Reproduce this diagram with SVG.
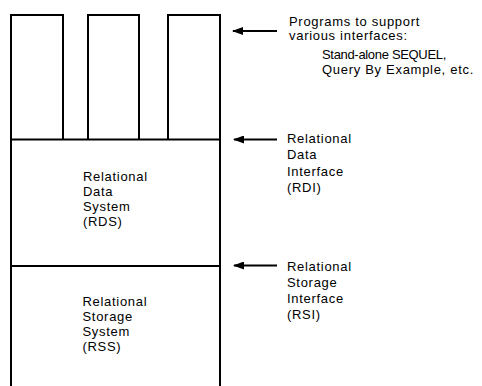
<svg xmlns="http://www.w3.org/2000/svg" width="482" height="386" viewBox="0 0 482 386">
  <style>
    .ln { fill: none; stroke: #000; stroke-width: 2; }
    .t { font-family: "Liberation Sans", Arial, sans-serif; font-size: 13px; letter-spacing: 0.7px; fill: #000; }
    .arr { fill: none; stroke: #000; stroke-width: 2; marker-end: url(#ah); }
  </style>
  <defs>
    <marker id="ah" markerUnits="userSpaceOnUse" markerWidth="11" markerHeight="8" viewBox="0 0 11 8" refX="10" refY="4" orient="auto">
      <path d="M0,0 L11,4 L0,8 z" fill="#000"/>
    </marker>
  </defs>
  <rect width="482" height="386" fill="#fff"/>

  <g id="interface-programs">
    <path class="ln" d="M11,386 V15 H63 V139.5 M88,139.5 V15 H139 V139.5 M168,139.5 V15 H220 V386"/>
  </g>

  <g id="rds">
    <path class="ln" d="M11,139.5 H220"/>
    <text class="t"><tspan x="83" y="181">Relational</tspan><tspan x="83" y="196">Data</tspan><tspan x="83" y="211">System</tspan><tspan x="83" y="226">(RDS)</tspan></text>
  </g>

  <g id="rss">
    <path class="ln" d="M11,266 H220"/>
    <text class="t"><tspan x="82.5" y="305.5">Relational</tspan><tspan x="82.5" y="320.5">Storage</tspan><tspan x="82.5" y="335.5">System</tspan><tspan x="82.5" y="350.5">(RSS)</tspan></text>
  </g>

  <g id="label-programs">
    <text class="t"><tspan x="289" y="25.5">Programs to support</tspan><tspan x="289" y="40">various interfaces:</tspan></text>
    <text class="t"><tspan x="322" y="58.5" textLength="125" lengthAdjust="spacing">Stand-alone SEQUEL,</tspan><tspan x="322" y="73.5">Query By Example, etc.</tspan></text>
  </g>

  <g id="label-rdi">
    <text class="t"><tspan x="287" y="142.5">Relational</tspan><tspan x="287" y="159">Data</tspan><tspan x="287" y="175.5">Interface</tspan><tspan x="287" y="192">(RDI)</tspan></text>
  </g>

  <g id="label-rsi">
    <text class="t"><tspan x="287" y="271">Relational</tspan><tspan x="287" y="287">Storage</tspan><tspan x="287" y="303">Interface</tspan><tspan x="287" y="319">(RSI)</tspan></text>
  </g>

  <g id="connectors">
    <path class="arr" d="M277,31 H233"/>
    <path class="arr" d="M277,139.5 H234"/>
    <path class="arr" d="M277,265.5 H234"/>
  </g>
</svg>
